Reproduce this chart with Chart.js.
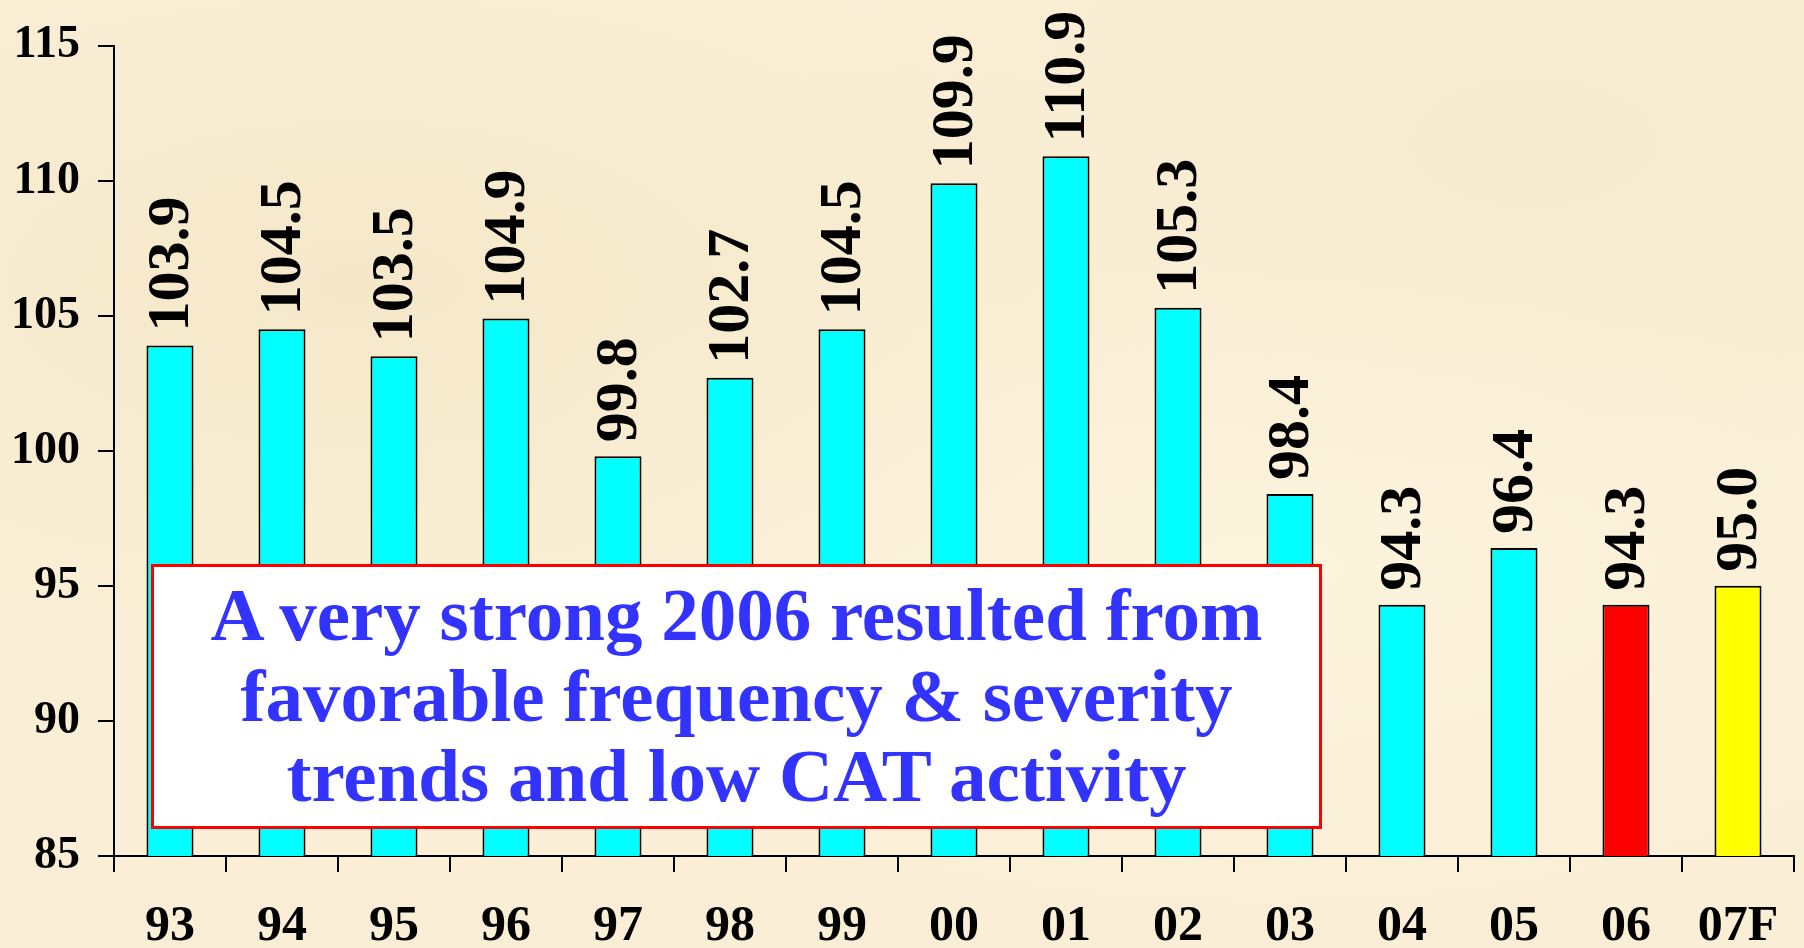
<!DOCTYPE html>
<html>
<head>
<meta charset="utf-8">
<script src="https://cdn.jsdelivr.net/npm/chart.js@4/dist/chart.umd.min.js"></script>
<style>
  html, body { margin: 0; padding: 0; }
  body {
    width: 1804px; height: 948px; overflow: hidden; position: relative;
    background: #FAEFD6;
    background-image:
      radial-gradient(ellipse at 20% 30%, rgba(240,225,190,0.5), rgba(0,0,0,0) 40%),
      radial-gradient(ellipse at 70% 60%, rgba(255,248,228,0.5), rgba(0,0,0,0) 45%),
      radial-gradient(ellipse at 85% 15%, rgba(242,228,196,0.45), rgba(0,0,0,0) 35%);
  }
  #wrap { position: absolute; left: 0; top: 0; width: 1804px; height: 948px; }
  #note {
    position: absolute; left: 151px; top: 564px; width: 1171px; height: 265px;
    box-sizing: border-box; border: 3px solid #FF0000; background: #FFFFFF;
    text-align: center; color: #3333FF;
    font-family: "Liberation Serif", "Times New Roman", serif; font-weight: bold;
    font-size: 75px; line-height: 80.5px; padding-top: 8px;
  }
</style>
</head>
<body>
<div id="wrap"><canvas id="c" width="1804" height="948"></canvas></div>
<div id="note">A very strong 2006 resulted from<br>favorable frequency &amp; severity<br>trends and low CAT activity</div>
<script>
const categories = ["93","94","95","96","97","98","99","00","01","02","03","04","05","06","07F"];
const values = [103.9,104.5,103.5,104.9,99.8,102.7,104.5,109.9,110.9,105.3,98.4,94.3,96.4,94.3,95.0];
const barColors = ["#00FFFF","#00FFFF","#00FFFF","#00FFFF","#00FFFF","#00FFFF","#00FFFF","#00FFFF","#00FFFF","#00FFFF","#00FFFF","#00FFFF","#00FFFF","#FF0000","#FFFF00"];
const yTicks = [85,90,95,100,105,110,115];

const FONT = '"Liberation Serif", "Times New Roman", serif';

const valueLabels = {
  id: 'valueLabels',
  afterDatasetsDraw(chart) {
    const ctx = chart.ctx;
    const meta = chart.getDatasetMeta(0);
    ctx.save();
    ctx.fillStyle = '#000';
    ctx.font = 'bold 60px ' + FONT;
    ctx.textAlign = 'left';
    ctx.textBaseline = 'middle';
    meta.data.forEach((bar, i) => {
      ctx.save();
      ctx.translate(bar.x + 2, bar.y - 14);
      ctx.rotate(-Math.PI / 2);
      ctx.fillText(values[i].toFixed(1), 0, 0);
      ctx.restore();
    });
    ctx.restore();
  }
};

new Chart(document.getElementById('c'), {
  type: 'bar',
  data: {
    labels: categories,
    datasets: [{
      data: values,
      backgroundColor: barColors,
      borderColor: '#000000',
      borderWidth: 2,
      barPercentage: 0.42,
      categoryPercentage: 1.0
    }]
  },
  options: {
    responsive: false,
    animation: false,
    devicePixelRatio: 1,
    layout: { padding: { left: 0, right: 10, top: 38, bottom: 0 } },
    plugins: { legend: { display: false }, tooltip: { enabled: false } },
    scales: {
      x: {
        offset: true,
        afterFit(scale) { scale.height = 92; },
        grid: { display: true, drawOnChartArea: false, drawTicks: true, tickLength: 16, color: '#000', lineWidth: 2, offset: true },
        border: { display: true, color: '#000', width: 2 },
        ticks: { color: '#000', font: { family: FONT, weight: 'bold', size: 50 }, padding: 25, maxRotation: 0, autoSkip: false }
      },
      y: {
        min: 85, max: 115,
        afterFit(scale) { scale.width = 114; },
        afterBuildTicks(scale) { scale.ticks = yTicks.map(v => ({ value: v })); },
        grid: { display: true, drawOnChartArea: false, drawTicks: true, tickLength: 16, color: '#000', lineWidth: 2 },
        border: { display: true, color: '#000', width: 2 },
        ticks: { color: '#000', font: { family: FONT, weight: 'bold', size: 46 }, padding: 18 }
      }
    }
  },
  plugins: [valueLabels]
});
</script>
</body>
</html>
